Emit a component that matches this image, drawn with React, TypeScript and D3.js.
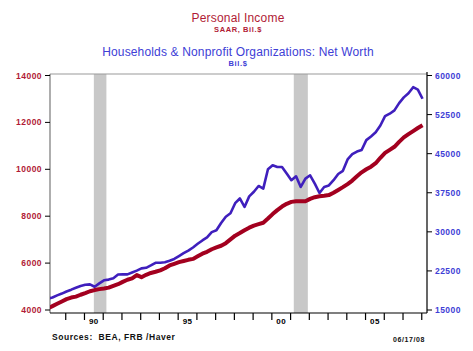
import { useRef, useEffect } from 'react';
import * as d3 from 'd3';

// quarterly, 1988Q1 .. 2008Q1
const START_YEAR = 1988;

const personalIncome = [
  4065, 4165, 4265, 4365, 4465, 4530, 4570, 4650,
  4720, 4800, 4850, 4890, 4920, 4955, 5030, 5100,
  5200, 5290, 5350, 5490, 5400, 5500, 5580, 5630,
  5690, 5780, 5900, 5970, 6040, 6090, 6140, 6180,
  6290, 6400, 6480, 6590, 6670, 6740, 6850, 7010,
  7170, 7280, 7400, 7510, 7600, 7660, 7720, 7900,
  8090, 8260, 8410, 8530, 8610, 8640, 8640, 8640,
  8740, 8810, 8850, 8870, 8900, 9000, 9120, 9240,
  9370, 9520, 9700, 9870, 10000, 10110, 10260, 10490,
  10700, 10830, 10960, 11170, 11360, 11500, 11630, 11760,
  11880,
];

const netWorth = [
  17150, 17400, 17800, 18150, 18550, 18900, 19280, 19620,
  19850, 19920, 19460, 20100, 20700, 20830, 21100, 21800,
  21840, 21840, 22200, 22550, 22990, 23100, 23550, 24060,
  24060, 24150, 24450, 24800, 25350, 25900, 26400, 27000,
  27700, 28350, 28920, 29950, 30300, 31700, 32900, 33560,
  35500, 36400, 34780, 36800, 37700, 38800, 38300, 42000,
  42770, 42440, 42440, 41200, 39900, 40660, 38610, 40220,
  40850, 39260, 37460, 38610, 38900, 39900, 41100, 41700,
  43900, 44900, 45400, 45700, 47600, 48300, 49100, 50400,
  52200, 52670, 53300, 54700, 55800, 56600, 57760, 57300,
  55540,
];

const recessions = [
  [1990.5, 1991.17],
  [2001.17, 2001.92],
];

const leftTicks = [4000, 6000, 8000, 10000, 12000, 14000];
const rightTicks = [15000, 22500, 30000, 37500, 45000, 52500, 60000];
const yearTicks = d3.range(1989, 2009);
const yearLabels = [
  { year: 1990, label: '90' },
  { year: 1995, label: '95' },
  { year: 2000, label: '00' },
  { year: 2005, label: '05' },
];

const W = 473;
const H = 351;
const LEFT = 50;
const RIGHT = 427;
const TOP = 74;
const BOTTOM = 313;

const RED = '#a3001f';
const RED_TEXT = '#b11b36';
const BLUE = '#3f1fbd';
const BLUE_TEXT = '#4040d6';
const FONT = 'Arial, "Liberation Sans", Helvetica, sans-serif';

export default function App() {
  const svgRef = useRef<SVGSVGElement>(null);

  useEffect(() => {
    const svg = d3.select(svgRef.current);
    svg.selectAll('*').remove();

    const x = d3.scaleLinear().domain([1988.16, 2008.28]).range([LEFT, RIGHT]);
    const yL = d3.scaleLinear().domain([4000, 14000]).range([310, 75.5]);
    const yR = d3.scaleLinear().domain([15000, 60000]).range([310, 75.5]);
    const date = (i: number) => START_YEAR + i / 4 + 1 / 24;

    svg.append('rect').attr('width', W).attr('height', H).attr('fill', '#fff');

    svg
      .append('clipPath')
      .attr('id', 'plot-clip')
      .append('rect')
      .attr('x', LEFT)
      .attr('y', TOP)
      .attr('width', RIGHT - LEFT)
      .attr('height', BOTTOM - TOP);

    // recession shading
    recessions.forEach(([a, b]) => {
      svg
        .append('rect')
        .attr('x', x(a))
        .attr('y', TOP)
        .attr('width', x(b) - x(a))
        .attr('height', BOTTOM - TOP)
        .attr('fill', '#c8c8c8');
    });

    // titles
    const title = (txt: string, yy: number, size: number, color: string, weight: string, ls = 0) =>
      svg
        .append('text')
        .attr('x', 238)
        .attr('y', yy)
        .attr('text-anchor', 'middle')
        .attr('font-family', FONT)
        .attr('font-size', size)
        .attr('font-weight', weight)
        .attr('letter-spacing', ls)
        .attr('fill', color)
        .text(txt);
    title('Personal Income', 22, 12, RED_TEXT, 'normal', 0.2);
    title('SAAR, Bil.$', 31.5, 7.5, RED_TEXT, 'bold', 0.6);
    title('Households & Nonprofit Organizations: Net Worth', 55.5, 12, BLUE_TEXT, 'normal', 0.15);
    title('Bil.$', 65.5, 7.5, BLUE_TEXT, 'bold', 0.6);

    // frame
    svg
      .append('line')
      .attr('x1', LEFT)
      .attr('x2', RIGHT)
      .attr('y1', TOP)
      .attr('y2', TOP)
      .attr('stroke', '#999')
      .attr('stroke-width', 1.2);
    svg
      .append('line')
      .attr('x1', LEFT)
      .attr('x2', LEFT)
      .attr('y1', TOP)
      .attr('y2', BOTTOM)
      .attr('stroke', '#777')
      .attr('stroke-width', 1.2);
    svg
      .append('line')
      .attr('x1', RIGHT)
      .attr('x2', RIGHT)
      .attr('y1', TOP - 2)
      .attr('y2', BOTTOM)
      .attr('stroke', '#000')
      .attr('stroke-width', 1.2);
    svg
      .append('line')
      .attr('x1', LEFT)
      .attr('x2', RIGHT)
      .attr('y1', BOTTOM)
      .attr('y2', BOTTOM)
      .attr('stroke', '#000')
      .attr('stroke-width', 1.2);

    // left axis
    leftTicks.forEach((v) => {
      svg
        .append('line')
        .attr('x1', LEFT - 5)
        .attr('x2', LEFT)
        .attr('y1', yL(v))
        .attr('y2', yL(v))
        .attr('stroke', '#000');
      svg
        .append('text')
        .attr('x', LEFT - 8)
        .attr('y', yL(v) + 3)
        .attr('text-anchor', 'end')
        .attr('font-family', FONT)
        .attr('font-size', 8.5)
        .attr('font-weight', 'bold')
        .attr('letter-spacing', 0.45)
        .attr('fill', RED_TEXT)
        .text(v);
    });

    // right axis
    rightTicks.forEach((v) => {
      svg
        .append('line')
        .attr('x1', RIGHT)
        .attr('x2', RIGHT + 5)
        .attr('y1', yR(v))
        .attr('y2', yR(v))
        .attr('stroke', '#000');
      svg
        .append('text')
        .attr('x', RIGHT + 8)
        .attr('y', yR(v) + 3)
        .attr('font-family', FONT)
        .attr('font-size', 8.5)
        .attr('font-weight', 'bold')
        .attr('letter-spacing', 0.45)
        .attr('fill', BLUE_TEXT)
        .text(v);
    });

    // x axis
    yearTicks.forEach((yr) => {
      svg
        .append('line')
        .attr('x1', x(yr))
        .attr('x2', x(yr))
        .attr('y1', BOTTOM)
        .attr('y2', BOTTOM + 7)
        .attr('stroke', '#000')
        .attr('stroke-width', 1.2);
    });
    yearLabels.forEach((d) => {
      svg
        .append('text')
        .attr('x', x(d.year + 0.5))
        .attr('y', BOTTOM + 10.5)
        .attr('text-anchor', 'middle')
        .attr('font-family', FONT)
        .attr('font-size', 8)
        .attr('font-weight', 'bold')
        .attr('letter-spacing', 0.4)
        .attr('fill', '#000')
        .text(d.label);
    });

    // series
    const lines = svg.append('g').attr('clip-path', 'url(#plot-clip)');
    const piLine = d3
      .line<number>()
      .x((_, i) => x(date(i)))
      .y((v) => yL(v));
    const nwLine = d3
      .line<number>()
      .x((_, i) => x(date(i)))
      .y((v) => yR(v));

    lines
      .append('path')
      .attr('d', nwLine(netWorth))
      .attr('fill', 'none')
      .attr('stroke', BLUE)
      .attr('stroke-width', 2.6)
      .attr('stroke-linejoin', 'round');
    lines
      .append('path')
      .attr('d', piLine(personalIncome))
      .attr('fill', 'none')
      .attr('stroke', RED)
      .attr('stroke-width', 4)
      .attr('stroke-linejoin', 'round');

    // footer
    svg
      .append('text')
      .attr('x', 52)
      .attr('y', 339.5)
      .attr('font-family', FONT)
      .attr('font-size', 8.5)
      .attr('font-weight', 'bold')
      .attr('letter-spacing', 0.55)
      .attr('fill', '#111')
      .attr('xml:space', 'preserve')
      .text('Sources:  BEA, FRB /Haver');
    svg
      .append('text')
      .attr('x', 425)
      .attr('y', 341.5)
      .attr('text-anchor', 'end')
      .attr('font-family', FONT)
      .attr('font-size', 7)
      .attr('font-weight', 'bold')
      .attr('letter-spacing', 0.6)
      .attr('fill', '#111')
      .text('06/17/08');
  }, []);

  return (
    <svg
      ref={svgRef}
      width={W}
      height={H}
      style={{ position: 'absolute', left: 0, top: 0 }}
    />
  );
}
